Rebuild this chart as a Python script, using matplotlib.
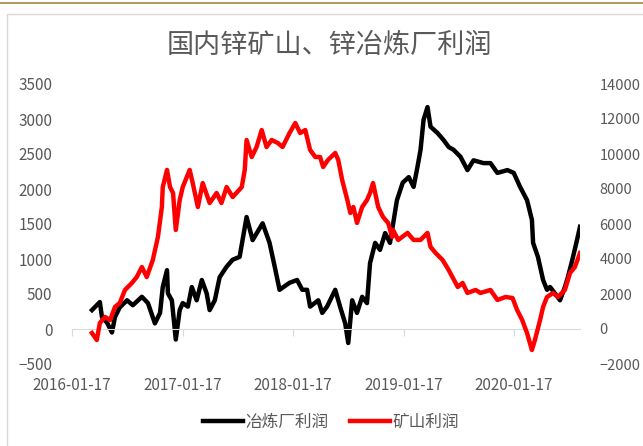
'''
国内锌矿山、锌冶炼厂利润 (冶炼厂: 左轴, 矿山: 右轴)
'''

import pandas as pd
import matplotlib
matplotlib.use('Agg')
import matplotlib.pyplot as plt
from matplotlib.patches import Rectangle

plt.rcParams['font.family'] = ['Noto Sans CJK SC', 'DejaVu Sans']

# 冶炼厂利润 (元/吨, 左轴)
smelter_dates = ['2016-03-23', '2016-04-18', '2016-04-25', '2016-05-12', '2016-05-28', '2016-06-07',
                 '2016-06-23', '2016-07-17', '2016-08-05', '2016-09-04', '2016-09-24', '2016-10-17',
                 '2016-11-03', '2016-11-12', '2016-11-26', '2016-11-29', '2016-12-12', '2016-12-25',
                 '2017-01-07', '2017-01-17', '2017-02-03', '2017-02-16', '2017-03-04', '2017-03-21',
                 '2017-04-06', '2017-04-16', '2017-05-03', '2017-05-19', '2017-06-11', '2017-07-01',
                 '2017-07-24', '2017-08-16', '2017-09-05', '2017-10-08', '2017-10-31', '2017-11-17',
                 '2017-12-03', '2018-01-05', '2018-01-30', '2018-02-16', '2018-03-04', '2018-03-14',
                 '2018-04-10', '2018-04-23', '2018-05-09', '2018-06-05', '2018-06-21', '2018-07-08',
                 '2018-07-18', '2018-07-31', '2018-08-16', '2018-09-02', '2018-09-18', '2018-09-28',
                 '2018-10-15', '2018-10-31', '2018-11-17', '2018-12-03', '2018-12-26', '2019-01-14',
                 '2019-02-03', '2019-02-19', '2019-03-04', '2019-03-14', '2019-03-24', '2019-04-06',
                 '2019-04-16', '2019-05-09', '2019-05-29', '2019-06-15', '2019-07-01', '2019-07-24',
                 '2019-08-16', '2019-09-05', '2019-10-08', '2019-10-31', '2019-11-23', '2019-12-26',
                 '2020-01-16', '2020-02-06', '2020-02-29', '2020-03-16', '2020-03-20', '2020-04-05',
                 '2020-04-22', '2020-05-05', '2020-05-15', '2020-05-31', '2020-06-17', '2020-07-03',
                 '2020-07-13', '2020-07-30', '2020-08-12', '2020-08-22']
smelter_profit = [270, 385, 170, 90, -50, 170,
                  310, 410, 340, 460, 370, 80,
                  230, 600, 840, 510, 410, -150,
                  270, 370, 320, 600, 410, 700,
                  510, 270, 410, 740, 890, 990,
                  1030, 1600, 1270, 1510, 1230, 890,
                  560, 660, 700, 560, 560, 320,
                  410, 230, 320, 560, 320, 80,
                  -200, 410, 230, 460, 370, 940,
                  1230, 1130, 1370, 1230, 1840, 2090,
                  2170, 2030, 2320, 2560, 2990, 3170,
                  2890, 2800, 2700, 2600, 2560, 2460,
                  2270, 2410, 2370, 2370, 2230, 2270,
                  2230, 2030, 1840, 1560, 1230, 1030,
                  700, 560, 600, 510, 410, 600,
                  740, 1030, 1270, 1460]

# 矿山利润 (元/吨, 右轴)
mine_dates = ['2016-03-23', '2016-04-08', '2016-04-18', '2016-05-05', '2016-05-22', '2016-06-07',
              '2016-06-23', '2016-07-10', '2016-08-02', '2016-08-18', '2016-09-04', '2016-09-20',
              '2016-10-10', '2016-10-27', '2016-11-09', '2016-11-12', '2016-11-26', '2016-12-06',
              '2016-12-16', '2016-12-25', '2017-01-07', '2017-01-17', '2017-02-09', '2017-02-19',
              '2017-03-08', '2017-03-24', '2017-04-16', '2017-05-09', '2017-05-25', '2017-06-11',
              '2017-07-01', '2017-07-31', '2017-08-10', '2017-08-16', '2017-09-02', '2017-09-18',
              '2017-10-05', '2017-10-21', '2017-11-07', '2017-11-27', '2017-12-13', '2018-01-05',
              '2018-01-24', '2018-02-09', '2018-02-26', '2018-03-14', '2018-03-31', '2018-04-16',
              '2018-04-26', '2018-05-12', '2018-06-05', '2018-06-15', '2018-06-28', '2018-07-15',
              '2018-07-25', '2018-08-04', '2018-08-16', '2018-09-02', '2018-09-18', '2018-09-28',
              '2018-10-08', '2018-10-25', '2018-11-10', '2018-11-27', '2018-12-10', '2018-12-13',
              '2018-12-30', '2019-01-30', '2019-02-19', '2019-03-14', '2019-04-06', '2019-04-16',
              '2019-05-03', '2019-05-26', '2019-06-15', '2019-07-15', '2019-07-31', '2019-08-16',
              '2019-09-12', '2019-09-28', '2019-10-31', '2019-11-23', '2019-12-20', '2020-01-12',
              '2020-01-27', '2020-02-13', '2020-02-29', '2020-03-16', '2020-03-26', '2020-04-12',
              '2020-04-22', '2020-05-05', '2020-05-25', '2020-06-10', '2020-07-03', '2020-07-20',
              '2020-08-05', '2020-08-22']
mine_profit = [-230, -630, 340, 690, 510, 1260,
               1490, 2230, 2630, 2970, 3540, 2970,
               3940, 5260, 6970, 8110, 9090, 8110,
               7770, 5660, 7370, 8110, 9090, 8340,
               6970, 8340, 7200, 7770, 7200, 8110,
               7540, 8110, 9090, 10800, 9830, 10400,
               11370, 10400, 10800, 10630, 10400, 11200,
               11770, 11200, 11370, 10230, 9830, 9830,
               9260, 9660, 10060, 9660, 8510, 7370,
               6630, 6970, 6060, 6970, 7370, 7770,
               8340, 6970, 6400, 6060, 5260, 5660,
               5090, 5490, 5090, 5090, 5490, 4690,
               4340, 3940, 3370, 2400, 2630, 2060,
               2230, 2060, 2230, 1660, 1830, 1770,
               1090, 510, -230, -1200, -630, 510,
               1260, 1830, 2060, 1830, 2230, 3200,
               3540, 4340]

tick_labels = ['2016-01-17', '2017-01-17', '2018-01-17', '2019-01-17', '2020-01-17']

grey = '#595959'

fig = plt.figure(figsize=(6.43, 4.46), dpi=100)

# 外框和顶部金色线
fig.patches.append(Rectangle((7 / 643, -0.05), 1.0, 1 - 14 / 446 + 0.05, transform=fig.transFigure,
                             fill=False, edgecolor='#d9d9d9', lw=1))
fig.patches.append(Rectangle((0, 1 - 4 / 446), 1.0, 2.5 / 446, transform=fig.transFigure,
                             facecolor='#b8995c', edgecolor='none'))

ax = fig.add_axes([72 / 643, 1 - 364 / 446, 508 / 643, 280 / 446])
ax2 = ax.twinx()

x1 = pd.to_datetime(smelter_dates)
x2 = pd.to_datetime(mine_dates)
l1, = ax.plot(x1, smelter_profit, color='black', lw=3.2, solid_joinstyle='round')
l2, = ax2.plot(x2, mine_profit, color='#ff0000', lw=3.2, solid_joinstyle='round')

ax.set_ylim(-500, 3500)
ax.set_yticks(range(-500, 3501, 500))
ax2.set_ylim(-2000, 14000)
ax2.set_yticks(range(-2000, 14001, 2000))
ax.set_xlim(pd.Timestamp('2016-01-17'), pd.Timestamp('2020-08-22'))

for a in (ax, ax2):
    for s in ['top', 'left', 'right']:
        a.spines[s].set_visible(False)
ax2.spines['bottom'].set_visible(False)

# 横轴线在 0 处, 日期标签放在最下面
ax.spines['bottom'].set_position(('data', 0))
ax.spines['bottom'].set_color('#d9d9d9')
ticks = pd.to_datetime(tick_labels)
ax.set_xticks(ticks)
ax.tick_params(axis='x', labelbottom=False, length=5, color='#d9d9d9', direction='out')
for t, lab in zip(ticks, tick_labels):
    ax.text(t, -21 / 280, lab, transform=ax.get_xaxis_transform(), ha='center', va='center',
            fontsize=11, color=grey)

ax.tick_params(axis='y', length=0, labelsize=11, labelcolor=grey, pad=14)
ax2.tick_params(axis='y', length=0, labelsize=10.5, labelcolor=grey, pad=14)

fig.text(0.512, 1 - 45 / 446, '国内锌矿山、锌冶炼厂利润', ha='center', va='center',
         fontsize=19.5, color=grey)

fig.legend([l1, l2], ['冶炼厂利润', '矿山利润'], loc='center', bbox_to_anchor=(331 / 643, 1 - 422 / 446),
           ncol=2, frameon=False, fontsize=12, labelcolor=grey, handlelength=2.4,
           handletextpad=0.15, columnspacing=1.3)

plt.savefig('out.png', dpi=100)
